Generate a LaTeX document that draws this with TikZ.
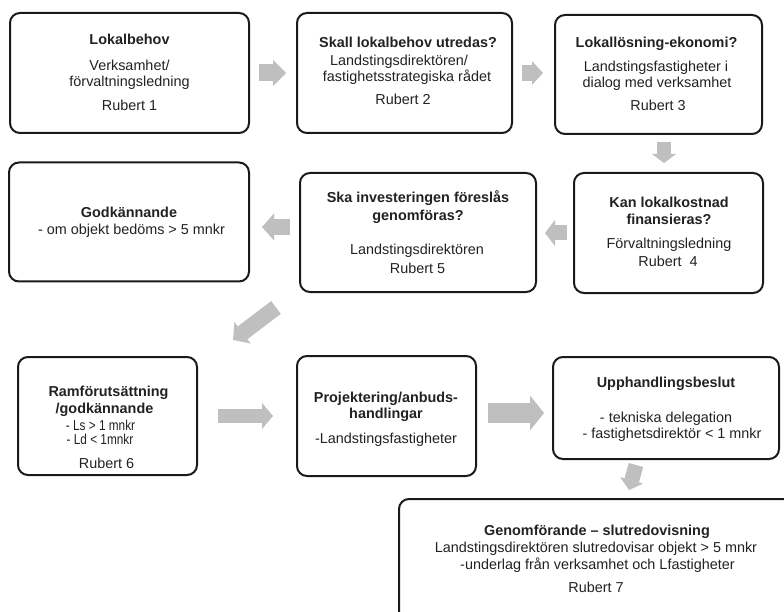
\documentclass[tikz,border=0pt]{standalone}
\usepackage{fontspec}
\setmainfont{Liberation Sans}
\usetikzlibrary{arrows.meta,calc}
\definecolor{arrowgray}{HTML}{BFBFBF}
\definecolor{inkc}{HTML}{1A1A1A}
\definecolor{txtc}{HTML}{222222}
\begin{document}
\begin{tikzpicture}[x=1pt,y=-1pt,
 box/.style={draw=inkc, line width=2pt, rounded corners=10pt, fill=white},
 tx/.style={anchor=base, inner sep=0pt, text=txtc, font=\fontsize{14.4}{17}\selectfont},
 tb/.style={tx, font=\fontsize{14.4}{17}\selectfont\bfseries},
 barrow/.style args={#1/#2/#3}{draw=arrowgray, line width=#1pt, -{Triangle[width=#2pt,length=#3pt,line width=0pt]}},
]
\useasboundingbox (0,0) rectangle (784,612);
\clip (0,0) rectangle (784,612);
\fill[white] (0,0) rectangle (784,612);

% boxes
\node[box, minimum width=239pt, minimum height=120pt] (b1) at (129.5,73) {};
\node[box, minimum width=215pt, minimum height=120pt] (b2) at (404.5,73) {};
\node[box, minimum width=207pt, minimum height=119pt] (b3) at (658.5,74.5) {};
\node[box, minimum width=240pt, minimum height=119pt] (godk) at (129,222) {};
\node[box, minimum width=236pt, minimum height=119pt] (ska) at (418,232.5) {};
\node[box, minimum width=189pt, minimum height=120pt] (kan) at (668.5,233) {};
\node[box, minimum width=179pt, minimum height=118pt] (ram) at (107.5,416) {};
\node[box, minimum width=179pt, minimum height=120pt] (proj) at (386.5,416) {};
\node[box, minimum width=226pt, minimum height=102pt] (upp) at (666,408) {};
\node[box, minimum width=431pt, minimum height=141pt] (gen) at (614.5,569.5) {};

% texts
\node[tb] (t1a) at (129.5,45) {Lokalbehov};
\node[tx] (t1b) at (129.5,71) {Verksamhet/};
\node[tx] (t1c) at (129.5,87) {förvaltningsledning};
\node[tx] (t1d) at (129.5,111) {Rubert 1};

\node[tb] (t2a) at (408,48) {Skall lokalbehov utredas?};
\node[tx] (t2b) at (399,66) {Landstingsdirektören/};
\node[tx] (t2c) at (407,82) {fastighetsstrategiska rådet};
\node[tx] (t2d) at (403,105) {Rubert 2};

\node[tb] (t3a) at (656.5,48) {Lokallösning-ekonomi?};
\node[tx] (t3b) at (656,72) {Landstingsfastigheter i};
\node[tx] (t3c) at (657,88) {dialog med verksamhet};
\node[tx] (t3d) at (658,111) {Rubert 3};

\node[tb] (t4a) at (129,218) {Godkännande};
\node[tx] (t4b) at (131.5,235) {- om objekt bedöms > 5 mnkr};

\node[tb] (t5a) at (418,203) {Ska investeringen föreslås};
\node[tb] (t5b) at (418,221) {genomföras?};
\node[tx] (t5c) at (417,255) {Landstingsdirektören};
\node[tx] (t5d) at (417.5,273) {Rubert 5};

\node[tb] (t6a) at (669,208) {Kan lokalkostnad};
\node[tb] (t6b) at (669,225) {finansieras?};
\node[tx] (t6c) at (669,249) {Förvaltningsledning};
\node[tx] (t6d) at (668,267) {Rubert\ \ 4};

\node[tb] (t7a) at (108.5,396) {Ramförutsättning};
\node[tb] (t7b) at (104.5,413) {/godkännande};
\node[tx] (t7c) at (100.5,430) {\scalebox{0.82}[1]{- Ls > 1 mnkr}};
\node[tx] (t7d) at (100,444) {\scalebox{0.82}[1]{- Ld < 1mnkr}};
\node[tx] (t7e) at (106.5,468) {Rubert 6};

\node[tb] (t8a) at (386,402) {Projektering/anbuds-};
\node[tb] (t8b) at (386,418) {handlingar};
\node[tx] (t8c) at (386,443) {-Landstingsfastigheter};

\node[tb] (t9a) at (666,387) {Upphandlingsbeslut};
\node[tx] (t9b) at (666,422) {- tekniska delegation};
\node[tx] (t9c) at (672,438) {- fastighetsdirektör < 1 mnkr};

\node[tb] (t10a) at (597,535) {Genomförande – slutredovisning};
\node[tx] (t10b) at (596,552) {Landstingsdirektören slutredovisar objekt > 5 mnkr};
\node[tx] (t10c) at (597.5,569) {-underlag från verksamhet och Lfastigheter};
\node[tx] (t10d) at (596,592) {Rubert 7};

% block arrows
\draw[barrow=17/26/13, shorten <=9pt, shorten >=10pt] (b1.east) -- (b2.west);
\draw[barrow=16/24/11, shorten <=9pt, shorten >=11pt] (b2.east) -- (b2.east -| b3.west);
\draw[barrow=14/24/9, shorten <=7pt, shorten >=9pt] ($(b3.south)+(5.5,0)$) -- ($(b3.south |- kan.north)+(5.5,0)$);
\draw[barrow=15/26/10, shorten <=6pt, shorten >=8pt] (kan.west) -- (kan.west -| ska.east);
\draw[barrow=16/27/12, shorten <=9pt, shorten >=12pt] ($(ska.west)+(0,-5.5)$) -- ($(ska.west -| godk.east)+(0,-5.5)$);
\draw[barrow=16/27/12] ($(ska.south west)+(-23,14.5)$) -- ($(ram.north east)+(35,-16)$);
\draw[barrow=14/26/11, shorten <=20pt, shorten >=23pt] (ram.east) -- (ram.east -| proj.west);
\draw[barrow=20/35/14, shorten <=11pt, shorten >=8pt] ($(proj.east)+(0,-3)$) -- ($(proj.east -| upp.west)+(0,-3)$);
\draw[barrow=15/24/10] ($(upp.south)+(-30,5)$) -- ($(upp.south)+(-37,30)$);
\end{tikzpicture}
\end{document}
